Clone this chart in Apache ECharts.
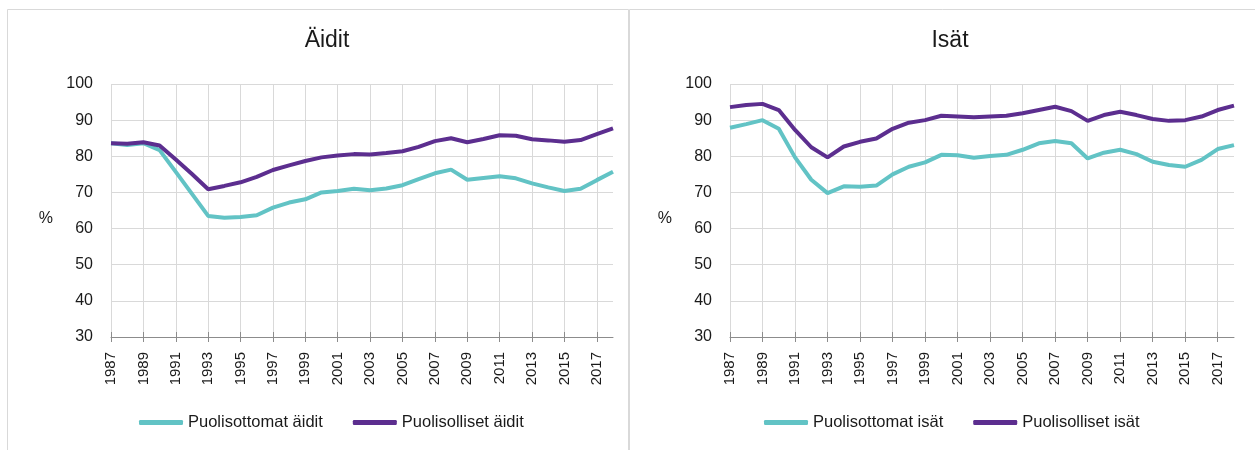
<!DOCTYPE html>
<html>
<head>
<meta charset="utf-8">
<script src="https://cdn.jsdelivr.net/npm/echarts@6/dist/echarts.min.js"></script>
<style>
  html, body { margin: 0; padding: 0; background: #fff; }
  #chart { width: 1255px; height: 450px; }
</style>
</head>
<body>
<div id="chart"></div>
<script>
// years on the x axis
var years = ['1987', '1988', '1989', '1990', '1991', '1992', '1993', '1994', '1995', '1996',
    '1997', '1998', '1999', '2000', '2001', '2002', '2003', '2004', '2005', '2006',
    '2007', '2008', '2009', '2010', '2011', '2012', '2013', '2014', '2015', '2016',
    '2017', '2018']

// Äidit
var singleMothers = [83.6, 83.1, 83.6, 81.7, 75.7, 69.6, 63.5, 63.0, 63.2, 63.7,
    65.8, 67.2, 68.1, 70.0, 70.4, 71.0, 70.6, 71.1, 72.0, 73.7,
    75.3, 76.3, 73.5, 74.0, 74.5, 73.9, 72.5, 71.4, 70.4, 71.0,
    73.4, 75.7]
var partneredMothers = [83.6, 83.5, 83.9, 83.0, 79.1, 75.1, 70.9, 71.8, 72.8, 74.3,
    76.2, 77.5, 78.7, 79.7, 80.2, 80.6, 80.5, 80.9, 81.4, 82.6,
    84.2, 85.0, 83.9, 84.8, 85.8, 85.7, 84.7, 84.4, 84.0, 84.5,
    86.1, 87.7]

// Isät
var singleFathers = [87.9, 88.9, 90.0, 87.6, 79.7, 73.5, 69.8, 71.7, 71.6, 71.9,
    75.0, 77.1, 78.3, 80.4, 80.3, 79.6, 80.1, 80.4, 81.8, 83.6,
    84.2, 83.6, 79.4, 81.0, 81.8, 80.6, 78.5, 77.6, 77.1, 79.0,
    82.0, 83.1]
var partneredFathers = [93.6, 94.2, 94.5, 92.8, 87.3, 82.5, 79.7, 82.7, 84.0, 84.9,
    87.6, 89.3, 90.0, 91.2, 91.0, 90.8, 91.0, 91.2, 91.9, 92.8,
    93.7, 92.5, 89.8, 91.4, 92.3, 91.4, 90.3, 89.8, 90.0, 91.0,
    92.8, 94.0]

var titles = ['Äidit', 'Isät']
var seriesNames = [
    ['Puolisottomat äidit', 'Puolisolliset äidit'],
    ['Puolisottomat isät', 'Puolisolliset isät']
]

var TEAL = '#62C3C5'
var PURPLE = '#5C2E8F'
var GRID = '#D9D9D9'
var AXIS = '#8C8C8C'
var TEXT = '#1A1A1A'
var SANS = "'Liberation Sans', Arial, sans-serif"

var chart = echarts.init(document.getElementById('chart'), null, { renderer: 'canvas' })

function mainXAxis(gridIndex) {
    return {
        type: 'category',
        gridIndex: gridIndex,
        data: years,
        boundaryGap: false,
        axisLine: { show: true, lineStyle: { color: AXIS, width: 1 } },
        axisTick: { show: true, interval: 1, length: 5, lineStyle: { color: AXIS } },
        axisLabel: {
            interval: 1,
            rotate: 90,
            margin: 15,
            color: TEXT,
            fontFamily: SANS,
            fontSize: 15
        },
        splitLine: { show: true, interval: 1, lineStyle: { color: GRID, width: 1 } }
    }
}

// second axis only to draw the upper half of the crossing ticks
function tickXAxis(gridIndex) {
    return {
        type: 'category',
        gridIndex: gridIndex,
        position: 'bottom',
        data: years,
        boundaryGap: false,
        axisLine: { show: false },
        axisTick: { show: true, inside: true, interval: 1, length: 5, lineStyle: { color: AXIS } },
        axisLabel: { show: false },
        splitLine: { show: false }
    }
}

function yAxis(gridIndex) {
    return {
        type: 'value',
        gridIndex: gridIndex,
        min: 30,
        max: 100,
        interval: 10,
        name: '%',
        nameLocation: 'middle',
        nameRotate: 0,
        nameGap: 58,
        nameTextStyle: { color: TEXT, fontFamily: SANS, fontSize: 16, verticalAlign: 'top' },
        axisLine: { show: false },
        axisTick: { show: false },
        axisLabel: { color: TEXT, fontFamily: SANS, fontSize: 16, margin: 18 },
        splitLine: { show: true, lineStyle: { color: GRID, width: 1 } }
    }
}

function lineSeries(name, data, color, axisIndex) {
    return {
        name: name,
        type: 'line',
        xAxisIndex: axisIndex,
        yAxisIndex: axisIndex / 2,
        data: data,
        symbol: 'none',
        lineStyle: { color: color, width: 4 },
        itemStyle: { color: color },
        emphasis: { disabled: true },
        animation: false
    }
}

function legend(names, left) {
    return {
        left: left,
        top: 409,
        data: names,
        icon: 'roundRect',
        itemWidth: 44,
        itemHeight: 5,
        itemGap: 30,
        textStyle: { color: TEXT, fontFamily: SANS, fontSize: 16.5 }
    }
}

var option = {
    backgroundColor: '#fff',
    animation: false,
    title: [{
        text: titles[0],
        left: 322,
        top: 24,
        textAlign: 'center',
        textStyle: { color: TEXT, fontFamily: SANS, fontSize: 23, fontWeight: 'normal' }
    }, {
        text: titles[1],
        left: 945,
        top: 24,
        textAlign: 'center',
        textStyle: { color: TEXT, fontFamily: SANS, fontSize: 23, fontWeight: 'normal' }
    }],
    graphic: [{
        type: 'rect',
        shape: { x: 7.5, y: 9.5, width: 621, height: 460 },
        style: { fill: 'none', stroke: '#D9D9D9', lineWidth: 1 },
        silent: true
    }, {
        type: 'rect',
        shape: { x: 629.5, y: 9.5, width: 640, height: 460 },
        style: { fill: 'none', stroke: '#D9D9D9', lineWidth: 1 },
        silent: true
    }],
    legend: [
        legend(seriesNames[0], 134),
        legend(seriesNames[1], 759)
    ],
    grid: [
        { left: 111, top: 84, width: 502, height: 253 },
        { left: 730, top: 84, width: 504, height: 253 }
    ],
    xAxis: [mainXAxis(0), tickXAxis(0), mainXAxis(1), tickXAxis(1)],
    yAxis: [yAxis(0), yAxis(1)],
    series: [
        lineSeries(seriesNames[0][0], singleMothers, TEAL, 0),
        lineSeries(seriesNames[0][1], partneredMothers, PURPLE, 0),
        lineSeries(seriesNames[1][0], singleFathers, TEAL, 2),
        lineSeries(seriesNames[1][1], partneredFathers, PURPLE, 2)
    ]
}

chart.setOption(option)
</script>
</body>
</html>
